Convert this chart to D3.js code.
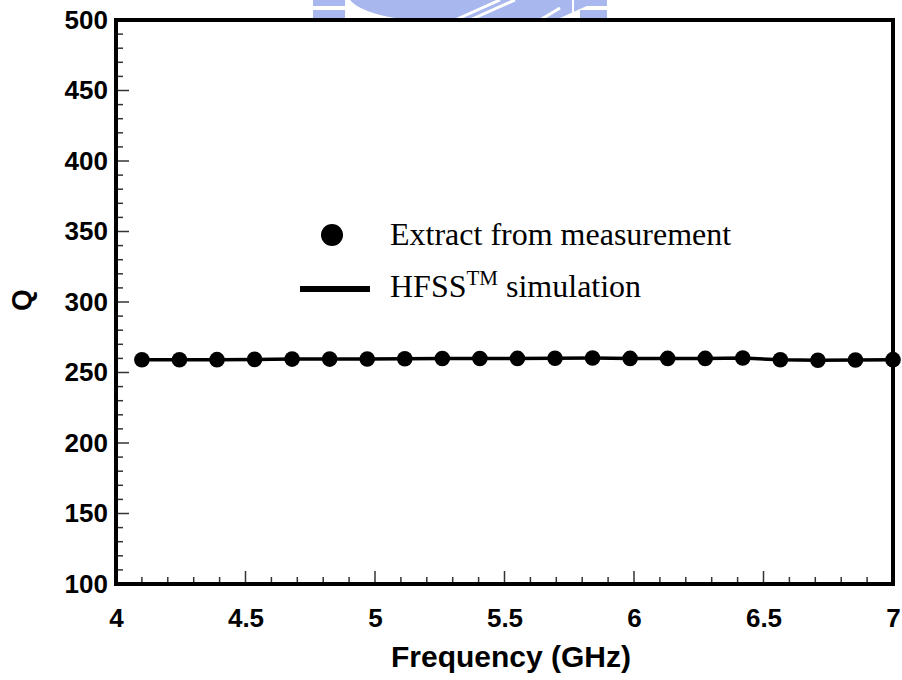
<!DOCTYPE html>
<html>
<head>
<meta charset="utf-8">
<script src="https://cdnjs.cloudflare.com/ajax/libs/d3/7.8.5/d3.min.js"></script>
<style>
  body { margin: 0; background: #fff; }
  svg { display: block; }
</style>
</head>
<body>
<svg id="chart" width="902" height="680"></svg>
<script>
// 周波数 (GHz)
var freq = [4.1, 4.245, 4.39, 4.535, 4.68, 4.825, 4.97, 5.115, 5.26, 5.405, 5.55,
            5.695, 5.84, 5.985, 6.13, 6.275, 6.42, 6.565, 6.71, 6.855, 7.0];
// 測定から抽出した Q
var qMeas = [259.0, 259.0, 259.1, 259.3, 259.5, 259.5, 259.6, 259.7, 259.9, 259.9, 260.0,
             260.1, 260.3, 260.0, 260.0, 260.0, 260.3, 259.0, 258.7, 258.9, 259.1];
// HFSS シミュレーション
var qSim  = [259.0, 259.0, 259.1, 259.3, 259.5, 259.5, 259.6, 259.7, 259.9, 259.9, 260.0,
             260.1, 260.3, 260.0, 260.0, 260.0, 260.3, 259.0, 258.7, 258.9, 259.1];
var xTicks = [4, 4.5, 5, 5.5, 6, 6.5, 7];
var yTicks = [100, 150, 200, 250, 300, 350, 400, 450, 500];
var legendLabels = ["Extract from measurement", "HFSS", "TM", " simulation"];

(function(){
  var svg = d3.select("#chart");
  var mLeft = 116, mRight = 893, mTop = 20, mBottom = 584;
  var sans = "Liberation Sans, Arial, sans-serif";

  var x = d3.scaleLinear().domain([4, 7]).range([mLeft, mRight]);
  var y = d3.scaleLinear().domain([100, 500]).range([mBottom, mTop]);

  // 透かし（上部の薄い青いロゴ）
  var wm = svg.append("g").attr("fill", "#a8b8ee");
  wm.append("rect").attr("x", 313).attr("y", 0).attr("width", 32).attr("height", 6);
  wm.append("rect").attr("x", 313).attr("y", 10).attr("width", 32).attr("height", 8);
  wm.append("path").attr("d", "M350,0 L600,0 L560,18 L395,18 Q360,12 350,0 Z");
  wm.append("rect").attr("x", 580).attr("y", 0).attr("width", 27).attr("height", 6);
  wm.append("rect").attr("x", 580).attr("y", 10).attr("width", 27).attr("height", 8);
  svg.append("path").attr("d", "M455,20 L500,0 M470,20 L515,0 M540,20 L560,8")
    .attr("stroke", "#fff").attr("stroke-width", 3).attr("fill", "none");
  svg.append("rect").attr("x", 572).attr("y", 0).attr("width", 2).attr("height", 18).attr("fill", "#fff");

  // 目盛り（内向き）
  var xMinor = d3.range(40, 71).map(function(d){ return d / 10; });
  var yMinor = d3.range(10, 51).map(function(d){ return d * 10; });

  svg.append("g").selectAll("line").data(xMinor).enter().append("line")
    .attr("x1", function(d){ return x(d); }).attr("x2", function(d){ return x(d); })
    .attr("y1", mBottom).attr("y2", function(d){ return xTicks.indexOf(d) >= 0 ? mBottom - 13 : mBottom - 7; })
    .attr("stroke", "#333").attr("stroke-width", 1.5);

  svg.append("g").selectAll("line").data(yMinor).enter().append("line")
    .attr("y1", function(d){ return y(d); }).attr("y2", function(d){ return y(d); })
    .attr("x1", mLeft).attr("x2", function(d){ return yTicks.indexOf(d) >= 0 ? mLeft + 13 : mLeft + 7; })
    .attr("stroke", "#333").attr("stroke-width", 1.5);

  // 軸ラベル
  var xAxis = d3.axisBottom(x).tickValues(xTicks).tickSize(0).tickPadding(25)
    .tickFormat(function(d){ return String(d); });
  var gx = svg.append("g").attr("transform", "translate(0," + mBottom + ")").call(xAxis);
  gx.select(".domain").remove();
  gx.attr("font-family", sans).attr("font-size", 26).attr("font-weight", "bold");
  gx.selectAll("text").attr("fill", "#000");

  var yAxis = d3.axisLeft(y).tickValues(yTicks).tickSize(0).tickPadding(8);
  var gy = svg.append("g").attr("transform", "translate(" + mLeft + ",0)").call(yAxis);
  gy.select(".domain").remove();
  gy.attr("font-family", sans).attr("font-size", 26).attr("font-weight", "bold");
  gy.selectAll("text").attr("fill", "#000");

  // シミュレーションの線
  var line = d3.line().x(function(d, i){ return x(freq[i]); }).y(function(d){ return y(d); });
  svg.append("path").datum(qSim).attr("d", line)
    .attr("fill", "none").attr("stroke", "#000").attr("stroke-width", 3.5);

  // 測定点
  svg.append("g").selectAll("circle").data(qMeas).enter().append("circle")
    .attr("cx", function(d, i){ return x(freq[i]); })
    .attr("cy", function(d){ return y(d); })
    .attr("r", 7.8).attr("fill", "#000");

  // 枠
  svg.append("rect").attr("x", mLeft).attr("y", mTop)
    .attr("width", mRight - mLeft).attr("height", mBottom - mTop)
    .attr("fill", "none").attr("stroke", "#000").attr("stroke-width", 4);

  // 軸タイトル
  svg.append("text").attr("x", 511).attr("y", 667).attr("text-anchor", "middle")
    .attr("font-family", sans).attr("font-weight", "bold")
    .attr("font-size", 30).text("Frequency (GHz)");
  svg.append("text").attr("transform", "translate(31,300) rotate(-90)").attr("text-anchor", "middle")
    .attr("font-family", sans).attr("font-weight", "bold")
    .attr("font-size", 28).text("Q");

  // 凡例
  var lg = svg.append("g").attr("font-family", "Liberation Serif, Times New Roman, serif").attr("font-size", 32);
  lg.append("circle").attr("cx", 332).attr("cy", 235).attr("r", 11).attr("fill", "#000");
  lg.append("text").attr("x", 390).attr("y", 245).text(legendLabels[0]);
  lg.append("line").attr("x1", 300).attr("x2", 370).attr("y1", 289).attr("y2", 289)
    .attr("stroke", "#000").attr("stroke-width", 6);
  var t2 = lg.append("text").attr("x", 390).attr("y", 297);
  t2.append("tspan").text(legendLabels[1]);
  t2.append("tspan").attr("dy", -12).attr("font-size", 21).text(legendLabels[2]);
  t2.append("tspan").attr("dy", 12).text(legendLabels[3]);
})();
</script>
</body>
</html>
